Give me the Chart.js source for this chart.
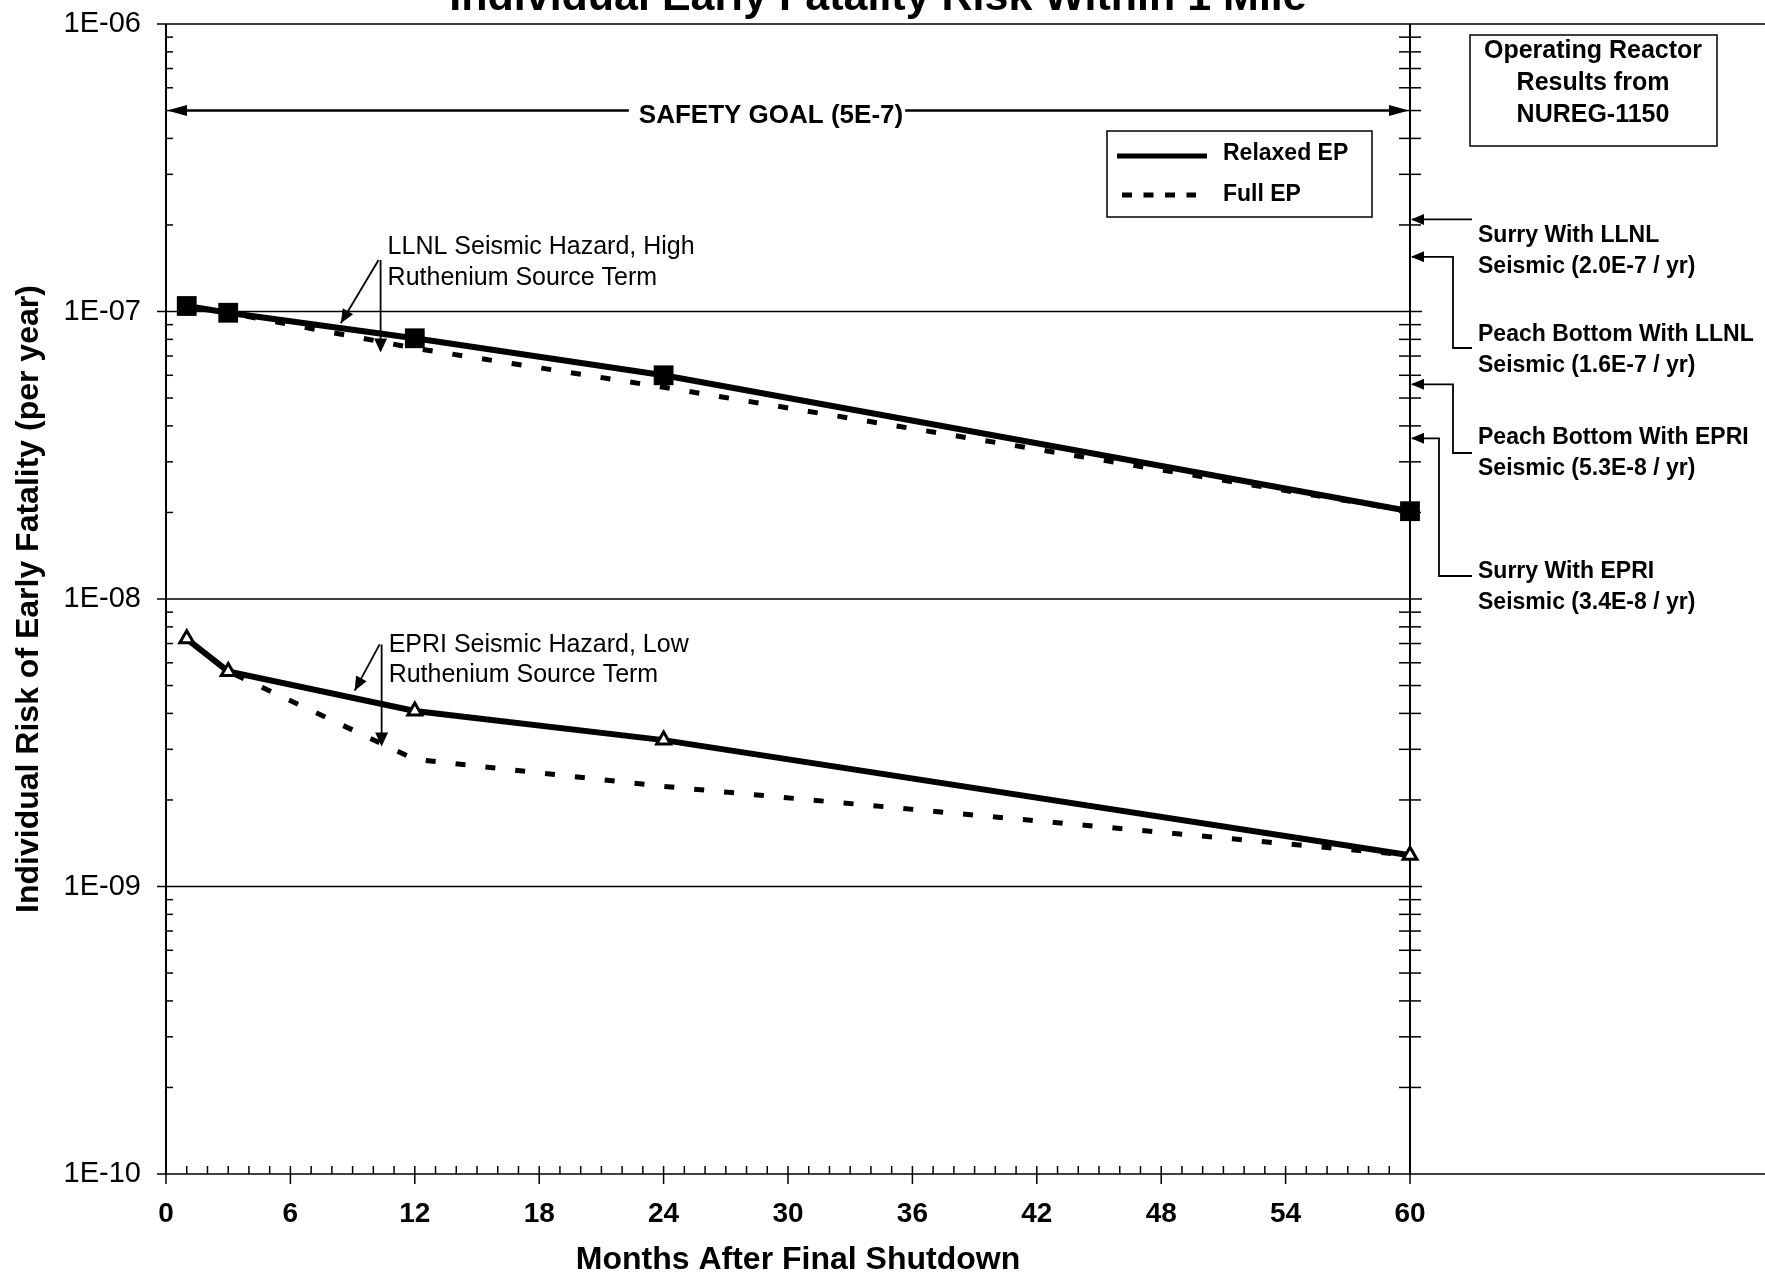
<!DOCTYPE html>
<html>
<head>
<meta charset="utf-8">
<title>Individual Early Fatality Risk Within 1 Mile</title>
<script src="https://cdn.jsdelivr.net/npm/chart.js@4.4.1/dist/chart.umd.min.js"></script>
<style>
  html, body { margin: 0; padding: 0; background: #fff; }
</style>
</head>
<body>
<canvas id="riskChart" width="1765" height="1274"></canvas>
<script>
// values (risk per year)
const months = [1, 3, 12, 24, 60];
const llnlRelaxed = [1.045e-7, 9.9e-8, 8.07e-8, 6.0e-8, 2.02e-8];
const llnlFull = [1.045e-7, 9.9e-8, 7.45e-8, 5.45e-8, 2.02e-8];
const epriRelaxed = [7.27e-9, 5.6e-9, 4.08e-9, 3.23e-9, 1.285e-9];
const epriFull = [7.27e-9, 5.6e-9, 2.77e-9, 2.23e-9, 1.285e-9];

const xTicks = [0, 6, 12, 18, 24, 30, 36, 42, 48, 54, 60];
const yTicks = [1e-10, 1e-9, 1e-8, 1e-7, 1e-6];
const safetyGoal = 5e-7;

// NUREG-1150 operating reactor results (arrows on the right axis)
const reactorLabels = [
  ['Surry With LLNL', 'Seismic (2.0E-7 / yr)'],
  ['Peach Bottom With LLNL', 'Seismic (1.6E-7 / yr)'],
  ['Peach Bottom With EPRI', 'Seismic (5.3E-8 / yr)'],
  ['Surry With EPRI', 'Seismic (3.4E-8 / yr)']
];
const reactorArrowAt = [2.09e-7, 1.55e-7, 5.58e-8, 3.62e-8];

// callout arrows inside the plot, in data units (month, risk)
const callouts = [
  { text: ['LLNL Seismic Hazard, High', 'Ruthenium Source Term'],
    apex: [10.35, 1.51e-7], diagTip: [8.43, 9.1e-8], vertTip: [10.35, 7.2e-8] },
  { text: ['EPRI Seismic Hazard, Low', 'Ruthenium Source Term'],
    apex: [10.4, 6.95e-9], diagTip: [9.1, 4.8e-9], vertTip: [10.4, 3.07e-9] }
];

// --- layout bits (pixels) ---
const FONT = '"Liberation Sans", Arial, Helvetica, sans-serif';
const reactorTextY = [236, 335, 438, 572];
const reactorElbowX = [null, 1453, 1453, 1439];
const reactorElbowY = [null, 348, 453, 576];
const calloutTextDy = [[-13, 18], [1, 31]];

function pts(ys) {
  return months.map((m, i) => ({ x: m, y: ys[i] }));
}

function seg(ctx, x1, y1, x2, y2) {
  ctx.beginPath();
  ctx.moveTo(x1, y1);
  ctx.lineTo(x2, y2);
  ctx.stroke();
}

function head(ctx, x, y, ang, len, hw) {
  ctx.save();
  ctx.translate(x, y);
  ctx.rotate(ang);
  ctx.beginPath();
  ctx.moveTo(0, 0);
  ctx.lineTo(-len, -hw);
  ctx.lineTo(-len, hw);
  ctx.closePath();
  ctx.fill();
  ctx.restore();
}

function expLabel(v) {
  const e = Math.round(Math.log10(v));
  return '1E' + (e < 0 ? '-' : '+') + String(Math.abs(e)).padStart(2, '0');
}

// axes, grid and tick marks drawn like the original Excel chart
const frame = {
  id: 'frame',
  beforeDatasetsDraw(chart) {
    const { ctx, chartArea: a, scales: { x, y } } = chart;
    const W = chart.width;
    ctx.save();
    ctx.strokeStyle = '#000';
    ctx.lineWidth = 1.6;
    yTicks.forEach((v, i) => {
      const py = y.getPixelForValue(v);
      const edge = i === 0 || i === yTicks.length - 1;
      seg(ctx, a.left - 9, py, edge ? W : a.right + 12, py);
    });
    ctx.lineWidth = 2;
    seg(ctx, a.left, a.top, a.left, a.bottom);
    seg(ctx, a.right, a.top, a.right, a.bottom);
    ctx.lineWidth = 1.5;
    for (let d = 0; d < yTicks.length - 1; d++) {
      for (let k = 2; k <= 9; k++) {
        const py = y.getPixelForValue(k * yTicks[d]);
        seg(ctx, a.left, py, a.left + 7, py);
        seg(ctx, a.right - 11, py, a.right + 11, py);
      }
    }
    for (let m = 1; m < 60; m++) {
      const px = x.getPixelForValue(m);
      seg(ctx, px, a.bottom, px, a.bottom - 8);
    }
    xTicks.forEach(m => {
      const px = x.getPixelForValue(m);
      seg(ctx, px, a.bottom, px, a.bottom + 10);
    });
    ctx.restore();
  },
  afterDatasetsDraw(chart) {
    const { ctx, chartArea: a, scales: { x, y } } = chart;
    ctx.save();
    ctx.strokeStyle = '#000';
    ctx.fillStyle = '#000';

    // title, cut off by the top of the scan
    ctx.font = 'bold 43px ' + FONT;
    ctx.textAlign = 'center';
    ctx.textBaseline = 'alphabetic';
    ctx.fillText('Individual Early Fatality Risk Within 1 Mile', 878, 10);

    // x axis title (sits a bit right of the plot centre in the original)
    ctx.font = 'bold 32px ' + FONT;
    ctx.textBaseline = 'middle';
    ctx.fillText('Months After Final Shutdown', 798, 1260);

    // safety goal line
    const gy = y.getPixelForValue(safetyGoal);
    ctx.font = 'bold 26px ' + FONT;
    ctx.textBaseline = 'alphabetic';
    const goalText = 'SAFETY GOAL (5E-7)';
    const tw = ctx.measureText(goalText).width;
    const cx = 771;
    ctx.lineWidth = 2.5;
    seg(ctx, a.left + 10, gy, cx - tw / 2 - 10, gy);
    seg(ctx, cx + tw / 2 + 2, gy, a.right - 10, gy);
    head(ctx, a.left + 1, gy, Math.PI, 20, 5.5);
    head(ctx, a.right - 1, gy, 0, 20, 5.5);
    ctx.fillText(goalText, cx, gy + 12);

    // legend box
    ctx.lineWidth = 1.5;
    ctx.strokeRect(1107, 131, 265, 86);
    ctx.lineWidth = 5;
    seg(ctx, 1117, 156, 1207, 156);
    ctx.setLineDash([10, 11.5]);
    seg(ctx, 1122, 195, 1196, 195);
    ctx.setLineDash([]);
    ctx.font = 'bold 23px ' + FONT;
    ctx.textAlign = 'left';
    ctx.textBaseline = 'middle';
    ctx.fillText('Relaxed EP', 1223, 154);
    ctx.fillText('Full EP', 1223, 195);

    // callouts inside the plot
    ctx.font = '25px ' + FONT;
    callouts.forEach((c, i) => {
      const ax = x.getPixelForValue(c.apex[0]), ay = y.getPixelForValue(c.apex[1]);
      const dx = x.getPixelForValue(c.diagTip[0]), dy = y.getPixelForValue(c.diagTip[1]);
      const vx = x.getPixelForValue(c.vertTip[0]), vy = y.getPixelForValue(c.vertTip[1]);
      ctx.lineWidth = 1.8;
      seg(ctx, ax - 2, ay, dx, dy);
      seg(ctx, vx, ay, vx, vy - 4);
      head(ctx, dx, dy, Math.atan2(dy - ay, dx - ax + 2), 14, 6);
      head(ctx, vx, vy, Math.PI / 2, 14, 6.5);
      ctx.fillText(c.text[0], ax + 7, ay + calloutTextDy[i][0]);
      ctx.fillText(c.text[1], ax + 7, ay + calloutTextDy[i][1]);
    });

    // NUREG-1150 box and reactor arrows
    ctx.lineWidth = 1.5;
    ctx.strokeRect(1470, 35, 247, 111);
    ctx.font = 'bold 25px ' + FONT;
    ctx.textAlign = 'center';
    ['Operating Reactor', 'Results from', 'NUREG-1150'].forEach((t, i) => {
      ctx.fillText(t, 1593, 51 + i * 32);
    });

    ctx.font = 'bold 23px ' + FONT;
    ctx.textAlign = 'left';
    reactorLabels.forEach((lines, i) => {
      const py = y.getPixelForValue(reactorArrowAt[i]);
      ctx.lineWidth = 1.8;
      if (reactorElbowX[i] === null) {
        seg(ctx, a.right + 2, py, 1472, py);
      } else {
        ctx.beginPath();
        ctx.moveTo(a.right + 2, py);
        ctx.lineTo(reactorElbowX[i], py);
        ctx.lineTo(reactorElbowX[i], reactorElbowY[i]);
        ctx.lineTo(1472, reactorElbowY[i]);
        ctx.stroke();
      }
      head(ctx, a.right + 1, py, Math.PI, 13, 5.5);
      ctx.fillText(lines[0], 1478, reactorTextY[i]);
      ctx.fillText(lines[1], 1478, reactorTextY[i] + 31);
    });
    ctx.restore();
  }
};

Chart.defaults.font.family = FONT;
Chart.defaults.color = '#000';

new Chart(document.getElementById('riskChart'), {
  type: 'line',
  data: {
    datasets: [
      {
        label: 'Relaxed EP (LLNL)',
        data: pts(llnlRelaxed),
        borderColor: '#000',
        backgroundColor: '#000',
        borderWidth: 6,
        pointStyle: 'rect',
        pointRadius: 14,
        pointBorderWidth: 0,
        order: 0,
        clip: false
      },
      {
        label: 'Relaxed EP (EPRI)',
        data: pts(epriRelaxed),
        borderColor: '#000',
        backgroundColor: '#fff',
        borderWidth: 6,
        pointStyle: 'triangle',
        pointRadius: 8,
        pointBorderWidth: 3,
        pointBorderColor: '#000',
        order: 0,
        clip: false
      },
      {
        label: 'Full EP (LLNL)',
        data: pts(llnlFull),
        borderColor: '#000',
        borderWidth: 5,
        borderDash: [10, 20],
        pointRadius: 0,
        order: 1,
        clip: false
      },
      {
        label: 'Full EP (EPRI)',
        data: pts(epriFull),
        borderColor: '#000',
        borderWidth: 5,
        borderDash: [10, 20],
        pointRadius: 0,
        order: 1,
        clip: false
      }
    ]
  },
  options: {
    responsive: false,
    animation: false,
    layout: { padding: { top: 24, right: 355, bottom: 0, left: 0 } },
    plugins: {
      legend: { display: false },
      tooltip: { enabled: false }
    },
    scales: {
      x: {
        type: 'linear',
        min: 0,
        max: 60,
        afterBuildTicks: s => { s.ticks = xTicks.map(v => ({ value: v })); },
        afterFit: s => { s.height = 100; },
        grid: { display: false, drawTicks: false },
        border: { display: false },
        ticks: {
          padding: 23,
          maxRotation: 0,
          font: { size: 28, weight: 'bold' }
        }
      },
      y: {
        type: 'logarithmic',
        min: 1e-10,
        max: 1e-6,
        afterBuildTicks: s => { s.ticks = yTicks.map(v => ({ value: v })); },
        afterFit: s => {
          s.width = 166;
          // labels may overhang the plot edges, like the original
          s.paddingTop = 0;
          s.paddingBottom = 0;
        },
        grid: { display: false, drawTicks: false },
        border: { display: false },
        ticks: {
          padding: 25,
          font: { size: 29 },
          callback: v => expLabel(v)
        },
        title: {
          display: true,
          text: 'Individual Risk of Early Fatality (per year)',
          font: { size: 32, weight: 'bold' },
          padding: { top: 10, bottom: 0 }
        }
      }
    }
  },
  plugins: [frame]
});
</script>
</body>
</html>
